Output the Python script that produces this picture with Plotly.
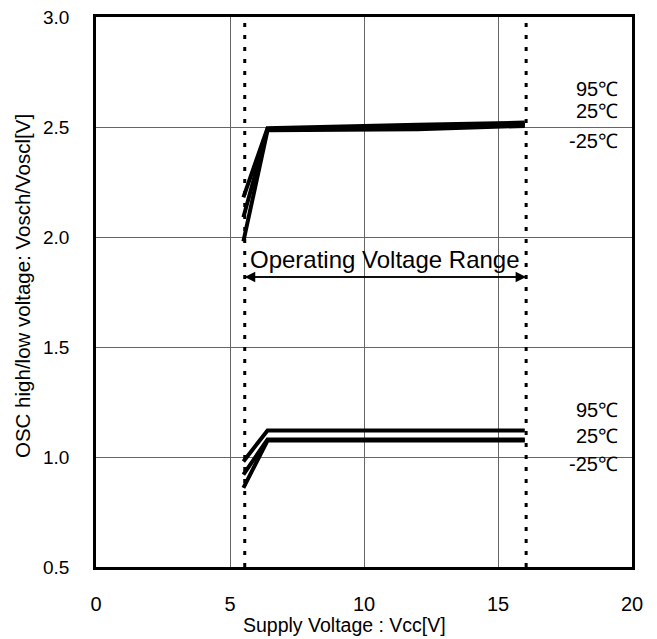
import plotly.graph_objects as go

# Data
vcc = [5.5, 6.4, 12.0, 16.0]
high_95 = [2.18, 2.495, 2.51, 2.52]
high_25 = [2.09, 2.49, 2.50, 2.51]
high_m25 = [1.98, 2.485, 2.49, 2.505]
low_95 = [0.98, 1.12, 1.12, 1.12]
low_25 = [0.92, 1.08, 1.08, 1.08]
low_m25 = [0.86, 1.075, 1.075, 1.075]
op_range = [5.55, 16.05]
temp_labels = ["95℃", "25℃", "-25℃"]
high_label_y = [2.673, 2.573, 2.436]
low_label_y = [1.214, 1.095, 0.968]
x_ticks = [0, 5, 10, 15, 20]
y_ticks = [0.5, 1.0, 1.5, 2.0, 2.5, 3.0]

FONT = "Liberation Sans, Arial, sans-serif"
fig = go.Figure()

for x in op_range:
    fig.add_trace(go.Scatter(x=[x, x], y=[0.5, 3.0], mode="lines",
                             line=dict(color="black", width=3, dash="4px,8px"),
                             showlegend=False, hoverinfo="skip"))

for ys in [high_95, high_25, high_m25, low_95, low_25, low_m25]:
    fig.add_trace(go.Scatter(x=vcc, y=ys, mode="lines",
                             line=dict(color="black", width=4),
                             showlegend=False))

for t, y in zip(temp_labels, high_label_y):
    fig.add_annotation(x=19.55, y=y, text=t, showarrow=False, xanchor="right",
                       font=dict(family=FONT, size=20, color="black"))
for t, y in zip(temp_labels, low_label_y):
    fig.add_annotation(x=19.55, y=y, text=t, showarrow=False, xanchor="right",
                       font=dict(family=FONT, size=20, color="black"))

# double arrow
arrow_y = 1.818
fig.add_annotation(x=op_range[0], y=arrow_y, ax=op_range[1], ay=arrow_y,
                   xref="x", yref="y", axref="x", ayref="y",
                   text="", showarrow=True, arrowhead=2, arrowsize=1.4,
                   arrowwidth=1.5, arrowcolor="black")
fig.add_annotation(x=op_range[1], y=arrow_y, ax=op_range[0], ay=arrow_y,
                   xref="x", yref="y", axref="x", ayref="y",
                   text="", showarrow=True, arrowhead=2, arrowsize=1.4,
                   arrowwidth=1.5, arrowcolor="black")
fig.add_annotation(x=(op_range[0] + op_range[1]) / 2, y=1.9,
                   text="Operating Voltage Range", showarrow=False,
                   font=dict(family=FONT, size=24, color="black"))

# axis titles
fig.add_annotation(xref="paper", yref="paper", x=0.5, y=0, yshift=-58, xshift=-20,
                   text="Supply Voltage : Vcc[V]", showarrow=False,
                   xanchor="center", yanchor="middle",
                   font=dict(family=FONT, size=19.5, color="black"))
fig.add_annotation(xref="paper", yref="paper", x=0, y=0.5, xshift=-74, yshift=6,
                   text="OSC high/low voltage: Vosch/Voscl[V]", showarrow=False,
                   textangle=-90, xanchor="center", yanchor="middle",
                   font=dict(family=FONT, size=20.5, color="black"))

# the page body adds an 8px offset; size the figure so it ends at the window edge
fig.update_layout(
    width=649, height=631,
    margin=dict(l=88, r=25, t=9, b=72),
    plot_bgcolor="white", paper_bgcolor="white",
    font=dict(family=FONT, color="black"),
)
fig.update_xaxes(range=[0, 20], tickvals=x_ticks, showgrid=True,
                 gridcolor="#666666", gridwidth=1, zeroline=False,
                 showline=True, linecolor="black", linewidth=2.5, mirror=True,
                 ticks="", ticklabelstandoff=17, automargin=False,
                 ticklabeloverflow="allow",
                 tickfont=dict(family=FONT, size=20))
fig.update_yaxes(range=[0.5, 3.0], tickvals=y_ticks, tickformat=".1f",
                 showgrid=True, gridcolor="#666666", gridwidth=1, zeroline=False,
                 showline=True, linecolor="black", linewidth=2.5, mirror=True,
                 ticks="", ticklabelstandoff=20, automargin=False,
                 ticklabeloverflow="allow",
                 tickfont=dict(family=FONT, size=19))

fig.write_html("out.html")
